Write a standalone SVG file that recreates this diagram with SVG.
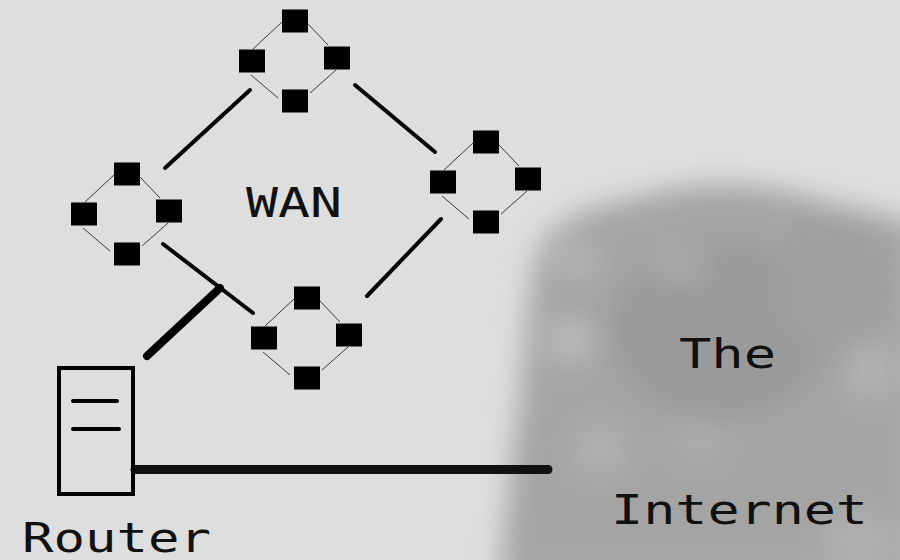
<svg xmlns="http://www.w3.org/2000/svg" width="900" height="560" viewBox="0 0 900 560">
  <defs>
    <style>
      .sq { fill: #000; }
      .thin { stroke: #3a3a3a; stroke-width: 1; fill: none; }
      .link { stroke: #000; stroke-width: 4; stroke-linecap: round; fill: none; }
      .label { font-family: "DejaVu Sans Mono", "Liberation Mono", monospace; font-size: 40px; fill: #111; }
    </style>
    <filter id="blur" x="-20%" y="-20%" width="140%" height="140%">
      <feGaussianBlur stdDeviation="14"/>
    </filter>
    <filter id="blur2" x="-50%" y="-50%" width="200%" height="200%">
      <feGaussianBlur stdDeviation="10"/>
    </filter>
    <g id="cluster">
      <line class="thin" x1="-13" y1="-39" x2="-42" y2="-12"/>
      <line class="thin" x1="13" y1="-37" x2="33" y2="-16"/>
      <line class="thin" x1="-44" y1="14" x2="-17" y2="37"/>
      <line class="thin" x1="41" y1="9" x2="15" y2="32"/>
      <rect class="sq" x="-13" y="-51.5" width="26" height="23"/>
      <rect class="sq" x="-56" y="-11.5" width="26" height="23"/>
      <rect class="sq" x="29" y="-14.5" width="26" height="23"/>
      <rect class="sq" x="-13" y="28.5" width="26" height="23"/>
    </g>
  </defs>

  <rect x="0" y="0" width="900" height="560" fill="#dedede"/>

  <g id="internet">
    <g filter="url(#blur)">
      <path d="M540,245 C560,215 600,205 650,195 C700,180 760,182 820,200 C860,210 890,215 920,225 L920,580 L500,580 C505,520 512,460 520,400 C525,340 528,285 540,245 Z" fill="#a4a4a4"/>
      <ellipse cx="720" cy="330" rx="110" ry="90" fill="#9a9a9a"/>
      <ellipse cx="830" cy="290" rx="60" ry="70" fill="#9e9e9e"/>
      <ellipse cx="570" cy="340" rx="25" ry="25" fill="#b8b8b8"/>
      <ellipse cx="575" cy="260" rx="25" ry="20" fill="#b4b4b4"/>
      <ellipse cx="870" cy="370" rx="25" ry="30" fill="#b2b2b2"/>
      <ellipse cx="600" cy="450" rx="30" ry="25" fill="#b0b0b0"/>
      <ellipse cx="700" cy="440" rx="30" ry="20" fill="#acacac"/>
      <ellipse cx="680" cy="265" rx="30" ry="20" fill="#a8a8a8"/>
      <ellipse cx="860" cy="540" rx="40" ry="25" fill="#b0b0b0"/>
    </g>
    <text class="label" x="679" y="368" textLength="97" lengthAdjust="spacingAndGlyphs">The</text>
    <text class="label" x="611" y="524" textLength="257" lengthAdjust="spacingAndGlyphs">Internet</text>
  </g>

  <g id="connectors">
    <line class="link" x1="165" y1="168" x2="250" y2="90"/>
    <line class="link" x1="355" y1="85" x2="435" y2="152"/>
    <line class="link" x1="163" y1="244" x2="253" y2="313"/>
    <line class="link" x1="367" y1="296" x2="441" y2="219"/>
    <line stroke="#000" stroke-width="8" stroke-linecap="round" x1="147" y1="356" x2="220" y2="288"/>
    <line stroke="#111" stroke-width="9" stroke-linecap="round" x1="135" y1="469.5" x2="548" y2="469.5"/>
  </g>

  <g id="wan-node-top"><use href="#cluster" transform="translate(295,61)"/></g>
  <g id="wan-node-left"><use href="#cluster" transform="translate(127,214)"/></g>
  <g id="wan-node-bottom"><use href="#cluster" transform="translate(307,338)"/></g>
  <g id="wan-node-right"><use href="#cluster" transform="translate(486,182)"/></g>

  <g id="wan-label">
    <text class="label" x="246" y="217" textLength="96" lengthAdjust="spacingAndGlyphs">WAN</text>
  </g>

  <g id="router">
    <rect x="59" y="368" width="74" height="126" fill="none" stroke="#000" stroke-width="4"/>
    <line x1="73" y1="401" x2="117" y2="401" stroke="#000" stroke-width="4" stroke-linecap="round"/>
    <line x1="73" y1="429" x2="119" y2="429" stroke="#000" stroke-width="4" stroke-linecap="round"/>
    <text class="label" x="22" y="552" textLength="189" lengthAdjust="spacingAndGlyphs">Router</text>
  </g>
</svg>
